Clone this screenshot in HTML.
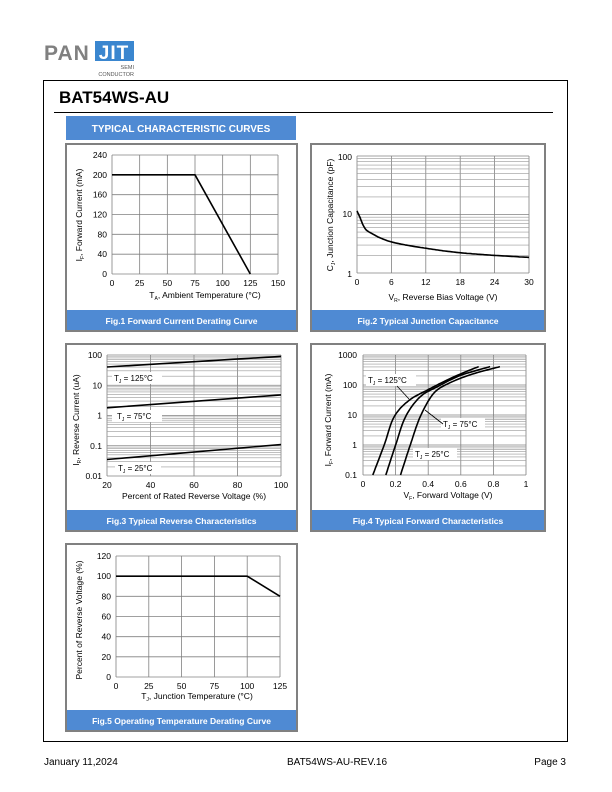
<!DOCTYPE html>
<html><head><meta charset="utf-8"><style>
html,body{margin:0;padding:0;background:#fff;}
svg{display:block;font-family:"Liberation Sans",Arial,sans-serif;}
</style></head><body>
<svg id="s" width="612" height="792" viewBox="0 0 612 792" xmlns="http://www.w3.org/2000/svg">
<text x="44" y="60" font-size="21" fill="#808080" font-weight="bold" letter-spacing="1">PAN</text>
<rect x="95" y="41" width="39" height="20" fill="#3a86cf"/>
<text x="114" y="59" font-size="19" fill="#fff" font-weight="bold" text-anchor="middle" letter-spacing="1">JIT</text>
<text x="134" y="69" font-size="5.5" fill="#555" text-anchor="end">SEMI</text>
<text x="134" y="76" font-size="5.5" fill="#555" text-anchor="end">CONDUCTOR</text>
<rect x="43.5" y="80.5" width="524" height="661" fill="none" stroke="#000" stroke-width="1"/>
<text x="59" y="103" font-size="17" font-weight="bold">BAT54WS-AU</text>
<line x1="54" y1="112.5" x2="553" y2="112.5" stroke="#000"/>
<rect x="66" y="116" width="230" height="24" fill="#4f8ad3"/>
<text x="181" y="132" font-size="10" font-weight="bold" fill="#fff" text-anchor="middle">TYPICAL CHARACTERISTIC CURVES</text>
<text x="44" y="765" font-size="10">January 11,2024</text>
<text x="337" y="765" font-size="10" text-anchor="middle">BAT54WS-AU-REV.16</text>
<text x="566" y="765" font-size="10" text-anchor="end">Page 3</text>
<g id="g"></g>
</svg>
<script>
var g=document.getElementById('g'),h='';
function L(x1,y1,x2,y2,c,w){h+='<line x1="'+x1+'" y1="'+y1+'" x2="'+x2+'" y2="'+y2+'" stroke="'+c+'" stroke-width="'+w+'"/>';}
function T(x,y,t,a,s,e){h+='<text x="'+x+'" y="'+y+'" font-size="'+(s||8.5)+'" text-anchor="'+(a||'middle')+'" '+(e||'')+'>'+t+'</text>';}
function panel(x,y,w,hh,cap){h+='<rect x="'+(x+1)+'" y="'+(y+1)+'" width="'+(w-2)+'" height="'+(hh-2)+'" fill="#fff" stroke="#808080" stroke-width="2"/>';
 h+='<rect x="'+(x+2)+'" y="'+(y+hh-22)+'" width="'+(w-4)+'" height="20" fill="#4f8ad3"/>';
 T(x+w/2,y+hh-8,cap,'middle',8.5,'font-weight="bold" fill="#fff"');}
function P(pts,c,w){h+='<polyline fill="none" stroke="'+(c||'#000')+'" stroke-width="'+(w||1.6)+'" stroke-linejoin="round" points="'+pts.map(function(p){return p[0].toFixed(1)+','+p[1].toFixed(1)}).join(' ')+'"/>';}
function smooth(pts){var o=[];for(var i=0;i<pts.length-1;i++){var p0=pts[Math.max(0,i-1)],p1=pts[i],p2=pts[i+1],p3=pts[Math.min(pts.length-1,i+2)];
 for(var t=0;t<1;t+=0.1){var t2=t*t,t3=t2*t;o.push([0,1].map(function(k){return 0.5*((2*p1[k])+(-p0[k]+p2[k])*t+(2*p0[k]-5*p1[k]+4*p2[k]-p3[k])*t2+(-p0[k]+3*p1[k]-3*p2[k]+p3[k])*t3)}));}}
 o.push(pts[pts.length-1]);return o;}
function lin(x0,y0,x1,y1,xs,ys){
 var n=xs.length-1,m=ys.length-1;
 for(var i=0;i<=n;i++){var x=x0+(x1-x0)*i/n;L(x,y0,x,y1,'#808080',0.8);T(x,y1+12,xs[i]);}
 for(var j=0;j<=m;j++){var y=y1-(y1-y0)*j/m;L(x0,y,x1,y,'#808080',0.8);T(x0-5,y+3,ys[j],'end');}
}
function logy(x0,y0,x1,y1,dec){var d=(y1-y0)/dec;
 for(var k=0;k<dec;k++)for(var i=2;i<10;i++){var y=y1-d*k-d*Math.log10(i);L(x0,y,x1,y,'#999',0.6);}
 for(var k=0;k<=dec;k++){L(x0,y1-d*k,x1,y1-d*k,'#808080',0.8);}}
panel(65,143,233,189,'Fig.1 Forward Current Derating Curve');
lin(112,155,278,274,['0','25','50','75','100','125','150'],['0','40','80','120','160','200','240']);
(function(){var fx=function(v){return 112+166*v/150},fy=function(v){return 274-119*v/240};
P([[fx(0),fy(200)],[fx(75),fy(200)],[fx(125),fy(0)]],'#000',1.6);})();
T(82,215,'I<tspan font-size="5" dy="2">F</tspan><tspan dy="-2">, Forward Current (mA)</tspan>','middle',8.5,'transform="rotate(-90 82 215)"');
T(205,298,'T<tspan font-size="5" dy="2">A</tspan><tspan dy="-2">, Ambient Temperature (°C)</tspan>','middle',8.5);
panel(310,143,236,189,'Fig.2 Typical Junction Capacitance');
(function(){var x0=357,x1=529,y0=156,y1=273;
 for(var i=0;i<=5;i++){var x=x0+(x1-x0)*i/5;L(x,y0,x,y1,'#808080',0.8);T(x,y1+12,String(i*6));}
 logy(x0,y0,x1,y1,2);T(352,160,'100','end');T(352,217,'10','end');T(352,277,'1','end');
 var d=[[0,11.5],[0.5,9],[1,6.8],[1.5,5.6],[2,5.1],[3,4.5],[4,4],[6,3.4],[9,2.95],[12,2.65],[15,2.4],[18,2.22],[21,2.1],[24,2.0],[27,1.92],[30,1.85]];
 P(smooth(d.map(function(p){return [x0+(x1-x0)*p[0]/30,y1-(y1-y0)/2*Math.log10(p[1])]})));
 T(333,215,'C<tspan font-size="5" dy="2">J</tspan><tspan dy="-2">, Junction Capacitance (pF)</tspan>','middle',8.5,'transform="rotate(-90 333 215)"');
 T(443,300,'V<tspan font-size="5" dy="2">R</tspan><tspan dy="-2">, Reverse Bias Voltage (V)</tspan>','middle',8.5);
})();
panel(65,343,233,189,'Fig.3 Typical Reverse Characteristics');
(function(){var x0=107,x1=281,y0=355,y1=476;
 for(var i=0;i<=4;i++){var x=x0+(x1-x0)*i/4;L(x,y0,x,y1,'#808080',0.8);T(x,y1+12,String(20+i*20));}
 logy(x0,y0,x1,y1,4);var lb=['0.01','0.1','1','10','100'];
 for(var k=0;k<=4;k++)T(102,y1-(y1-y0)/4*k+3,lb[k],'end');
 var fy=function(v){return y1-(y1-y0)/4*(Math.log10(v)+2)};
 P([[x0,fy(40)],[x1,fy(90)]]);P([[x0,fy(1.8)],[x1,fy(4.8)]]);P([[x0,fy(0.035)],[x1,fy(0.11)]]);
 h+='<rect x="112" y="372" width="50" height="12" fill="#fff"/><rect x="112" y="410" width="50" height="12" fill="#fff"/><rect x="115" y="462" width="46" height="12" fill="#fff"/>';
 T(114,381,'T<tspan font-size="5" dy="2">J</tspan><tspan dy="-2"> = 125°C</tspan>','start',8);
 T(117,419,'T<tspan font-size="5" dy="2">J</tspan><tspan dy="-2"> = 75°C</tspan>','start',8);
 T(118,471,'T<tspan font-size="5" dy="2">J</tspan><tspan dy="-2"> = 25°C</tspan>','start',8);
 T(79,420,'I<tspan font-size="5" dy="2">R</tspan><tspan dy="-2">, Reverse Current (uA)</tspan>','middle',8.5,'transform="rotate(-90 79 420)"');
 T(194,499,'Percent of Rated Reverse Voltage (%)','middle',8.5);
})();
panel(310,343,236,189,'Fig.4 Typical Forward Characteristics');
(function(){var x0=363,x1=526,y0=355,y1=475;
 for(var i=0;i<=5;i++){var x=x0+(x1-x0)*i/5;L(x,y0,x,y1,'#808080',0.8);T(x,y1+12,['0','0.2','0.4','0.6','0.8','1'][i]);}
 logy(x0,y0,x1,y1,4);var lb=['0.1','1','10','100','1000'];
 for(var k=0;k<=4;k++)T(357,y1-(y1-y0)/4*k+3,lb[k],'end');
 var f=function(p){return [x0+(x1-x0)*p[0],y1-(y1-y0)/4*(Math.log10(p[1])+1)]};
 P(smooth([[0.06,0.1],[0.13,1],[0.19,8.5],[0.28,30],[0.4,70],[0.56,190],[0.71,410]].map(f)));
 P(smooth([[0.14,0.1],[0.2,1],[0.26,8.5],[0.35,40],[0.46,90],[0.6,210],[0.78,410]].map(f)));
 P(smooth([[0.23,0.1],[0.29,1],[0.35,8.5],[0.43,50],[0.52,110],[0.67,230],[0.84,410]].map(f)));
 h+='<rect x="366" y="374" width="50" height="12" fill="#fff"/><rect x="441" y="418" width="44" height="12" fill="#fff"/><rect x="413" y="448" width="44" height="12" fill="#fff"/>';
 T(368,383,'T<tspan font-size="5" dy="2">J</tspan><tspan dy="-2"> = 125°C</tspan>','start',8);
 T(443,427,'T<tspan font-size="5" dy="2">J</tspan><tspan dy="-2"> = 75°C</tspan>','start',8);
 T(415,457,'T<tspan font-size="5" dy="2">J</tspan><tspan dy="-2"> = 25°C</tspan>','start',8);
 L(397,386,409,399,'#000',0.8);L(443,424,425,410,'#000',0.8);
 T(331,420,'I<tspan font-size="5" dy="2">F</tspan><tspan dy="-2">, Forward Current (mA)</tspan>','middle',8.5,'transform="rotate(-90 331 420)"');
 T(448,498,'V<tspan font-size="5" dy="2">F</tspan><tspan dy="-2">, Forward Voltage (V)</tspan>','middle',8.5);
})();
panel(65,543,233,189,'Fig.5 Operating Temperature Derating Curve');
lin(116,556,280,677,['0','25','50','75','100','125'],['0','20','40','60','80','100','120']);
(function(){var fx=function(v){return 116+164*v/125},fy=function(v){return 677-121*v/120};
P([[fx(0),fy(100)],[fx(100),fy(100)],[fx(125),fy(80)]],'#000',1.6);})();
T(82,620,'Percent of Reverse Voltage (%)','middle',8.5,'transform="rotate(-90 82 620)"');
T(197,699,'T<tspan font-size="5" dy="2">J</tspan><tspan dy="-2">, Junction Temperature (°C)</tspan>','middle',8.5);
g.innerHTML=h;
</script>
</body></html>
